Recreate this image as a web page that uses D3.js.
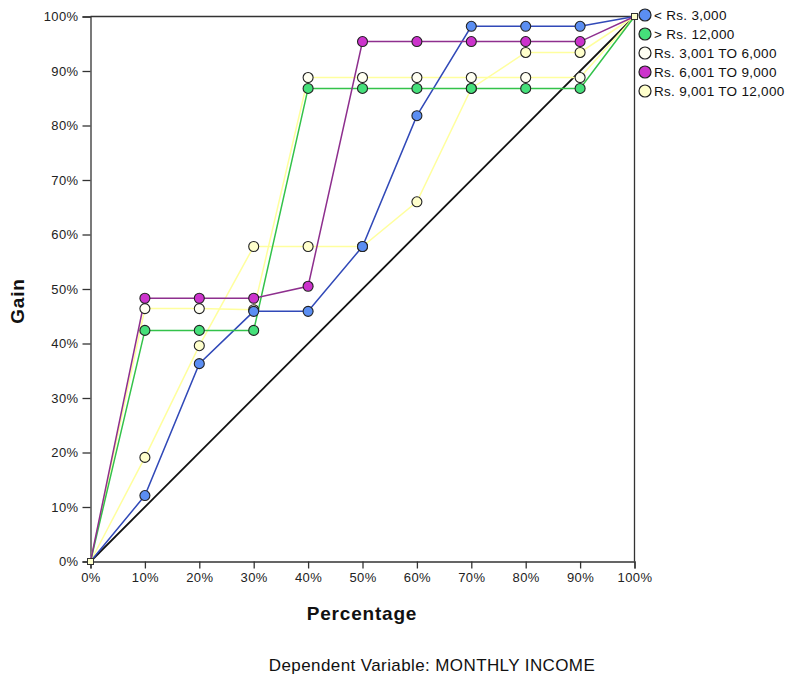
<!DOCTYPE html>
<html>
<head>
<meta charset="utf-8">
<script src="https://cdn.jsdelivr.net/npm/d3@7"></script>
<style>
  body { margin: 0; background: #fff; }
  svg { display: block; font-family: Arial, "Liberation Sans", sans-serif; }
</style>
</head>
<body>
<svg id="chart" width="793" height="680"></svg>
<script>
// ---- data ----
const percentages = [0, 0.1, 0.2, 0.3, 0.4, 0.5, 0.6, 0.7, 0.8, 0.9, 1.0];
const seriesNames = ["< Rs. 3,000", "> Rs. 12,000", "Rs. 3,001 TO 6,000", "Rs. 6,001 TO 9,000", "Rs. 9,001 TO 12,000"];
const gainBelow3000   = [0, 0.121, 0.363, 0.459, 0.459, 0.578, 0.818, 0.982, 0.982, 0.982, 1.0];
const gainAbove12000  = [0, 0.424, 0.424, 0.424, 0.868, 0.868, 0.868, 0.868, 0.868, 0.868, 1.0];
const gain3001to6000  = [0, 0.464, 0.464, 0.462, 0.888, 0.888, 0.888, 0.888, 0.888, 0.888, 1.0];
const gain6001to9000  = [0, 0.483, 0.483, 0.483, 0.505, 0.954, 0.954, 0.954, 0.954, 0.954, 1.0];
const gain9001to12000 = [0, 0.191, 0.396, 0.578, 0.578, 0.578, 0.660, 0.868, 0.934, 0.934, 1.0];
const baseline = [0, 1.0];
const tickValues = [0, 0.1, 0.2, 0.3, 0.4, 0.5, 0.6, 0.7, 0.8, 0.9, 1.0];

const fills = ["#5b8ef2", "#45e07a", "#fffff2", "#cc33cc", "#ffffcc"];
const lineColors = ["#3149b8", "#33c24a", "#ffff9e", "#8e2f8e", "#ffff9e"];
const seriesValues = [gainBelow3000, gainAbove12000, gain3001to6000, gain6001to9000, gain9001to12000];

// ---- layout ----
const svg = d3.select("#chart");
const x = d3.scaleLinear().domain([0, 1]).range([90.5, 634.5]);
const y = d3.scaleLinear().domain([0, 1]).range([561.5, 16.5]);
const fmt = d3.format(".0%");

// frame top/right
svg.append("line").attr("x1", x(0)).attr("x2", x(1)).attr("y1", y(1)).attr("y2", y(1))
  .attr("stroke", "#333").attr("stroke-width", 1.3);
svg.append("line").attr("x1", x(1)).attr("x2", x(1)).attr("y1", y(0)).attr("y2", y(1))
  .attr("stroke", "#333").attr("stroke-width", 1.3);

// axes
const xAxis = svg.append("g").attr("transform", `translate(0,${y(0)})`)
  .call(d3.axisBottom(x).tickValues(tickValues).tickFormat(fmt).tickSize(7).tickPadding(4));
const yAxis = svg.append("g").attr("transform", `translate(${x(0)},0)`)
  .call(d3.axisLeft(y).tickValues(tickValues).tickFormat(fmt).tickSize(8).tickPadding(4));
[xAxis, yAxis].forEach(a => {
  a.select(".domain").attr("stroke", "#333").attr("stroke-width", 1.3);
  a.selectAll(".tick line").attr("stroke", "#333").attr("stroke-width", 1.3);
  a.selectAll("text").attr("fill", "#222").style("font-size", "13px")
    .style("letter-spacing", "0.4px")
    .style("font-family", "Arial, 'Liberation Sans', sans-serif");
});

// baseline diagonal
svg.append("line")
  .attr("x1", x(baseline[0])).attr("y1", y(baseline[0]))
  .attr("x2", x(baseline[1])).attr("y2", y(baseline[1]))
  .attr("stroke", "#111").attr("stroke-width", 1.8);

const line = d3.line().x((d, i) => x(percentages[i])).y(d => y(d));

// draw lines: light ones first
const order = [2, 4, 0, 1, 3];
order.forEach(s => {
  svg.append("path").datum(seriesValues[s])
    .attr("d", line).attr("fill", "none")
    .attr("stroke", lineColors[s]).attr("stroke-width", 1.5);
});
// markers (skip endpoints, drawn separately)
order.forEach(s => {
  svg.append("g").selectAll("circle")
    .data(seriesValues[s].map((v, i) => ({ v, i })).filter(d => d.i > 0 && d.i < percentages.length - 1))
    .join("circle")
    .attr("cx", d => x(percentages[d.i]))
    .attr("cy", d => y(d.v))
    .attr("r", 5)
    .attr("fill", fills[s])
    .attr("stroke", "#222").attr("stroke-width", 1.1);
});
// endpoint small squares
[0, percentages.length - 1].forEach(i => {
  svg.append("rect")
    .attr("x", x(percentages[i]) - 3).attr("y", y(gain9001to12000[i]) - 3)
    .attr("width", 6).attr("height", 6)
    .attr("fill", "#ffffcc").attr("stroke", "#333").attr("stroke-width", 1);
});

// legend
const legend = svg.append("g");
seriesNames.forEach((name, i) => {
  const gy = 15 + i * 19;
  legend.append("circle").attr("cx", 645).attr("cy", gy).attr("r", 6)
    .attr("fill", fills[i]).attr("stroke", "#222").attr("stroke-width", 1.2);
  legend.append("text").attr("x", 654).attr("y", gy + 5)
    .text(name).attr("fill", "#111").style("font-size", "13.5px").style("letter-spacing", "0.3px");
});

// axis titles
svg.append("text").attr("x", 362).attr("y", 620).attr("text-anchor", "middle")
  .style("font-size", "19px").style("font-weight", "bold").style("letter-spacing", "0.8px")
  .attr("fill", "#111").text("Percentage");
svg.append("text").attr("transform", `translate(24,${y(0.5) + 12}) rotate(-90)`).attr("text-anchor", "middle")
  .style("font-size", "19px").style("font-weight", "bold").style("letter-spacing", "0.8px")
  .attr("fill", "#111").text("Gain");
svg.append("text").attr("x", 432).attr("y", 671).attr("text-anchor", "middle")
  .style("font-size", "17px").style("letter-spacing", "0.4px").attr("fill", "#111")
  .text("Dependent Variable: MONTHLY INCOME");
</script>
</body>
</html>
